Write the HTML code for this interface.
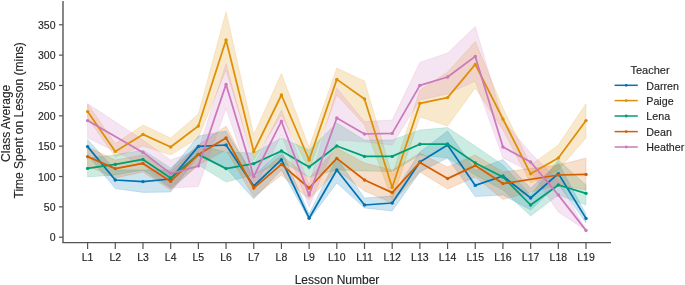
<!DOCTYPE html>
<html><head><meta charset="utf-8"><style>
html,body{margin:0;padding:0;background:#fff;}
svg{display:block;will-change:transform;}
text{font-family:"Liberation Sans",sans-serif;fill:#262626;stroke:#262626;stroke-width:0.15px;}
.tk{font-size:10.5px;}
.lb{font-size:12px;}
.lg{font-size:11px;}
.lgl{font-size:10.7px;}
</style></head><body>
<svg width="685" height="285" viewBox="0 0 685 285">
<path d="M87.60,139.40 L115.29,170.00 L142.98,170.00 L170.67,170.00 L198.36,136.00 L226.05,131.00 L253.74,176.00 L281.43,150.00 L309.12,214.00 L336.81,158.00 L364.50,198.00 L392.19,196.00 L419.88,152.00 L447.57,131.00 L475.26,170.00 L502.95,159.50 L530.64,188.00 L558.33,163.00 L586.02,214.00 L586.02,223.00 L558.33,184.00 L530.64,210.00 L502.95,195.00 L475.26,196.60 L447.57,158.00 L419.88,172.00 L392.19,211.00 L364.50,208.00 L336.81,183.00 L309.12,220.00 L281.43,170.00 L253.74,199.00 L226.05,168.00 L198.36,156.00 L170.67,192.00 L142.98,192.40 L115.29,188.60 L87.60,155.00 Z" fill="#0173b2" fill-opacity="0.2" stroke="#0173b2" stroke-opacity="0.2" stroke-width="0.8"/>
<path d="M87.60,104.00 L115.29,143.60 L142.98,125.00 L170.67,138.00 L198.36,114.00 L226.05,11.60 L253.74,134.60 L281.43,73.60 L309.12,147.50 L336.81,68.00 L364.50,81.00 L392.19,175.00 L419.88,90.00 L447.57,72.00 L475.26,41.60 L502.95,108.00 L530.64,165.00 L558.33,145.00 L586.02,103.60 L586.02,138.00 L558.33,170.00 L530.64,183.00 L502.95,130.00 L475.26,88.00 L447.57,126.00 L419.88,117.00 L392.19,200.00 L364.50,125.00 L336.81,95.00 L309.12,170.00 L281.43,115.00 L253.74,160.00 L226.05,70.00 L198.36,138.00 L170.67,155.00 L142.98,146.00 L115.29,157.00 L87.60,118.00 Z" fill="#de8f05" fill-opacity="0.2" stroke="#de8f05" stroke-opacity="0.2" stroke-width="0.8"/>
<path d="M87.60,158.00 L115.29,155.00 L142.98,150.00 L170.67,168.00 L198.36,145.00 L226.05,152.00 L253.74,153.00 L281.43,138.00 L309.12,150.00 L336.81,123.00 L364.50,140.00 L392.19,140.00 L419.88,130.00 L447.57,127.60 L475.26,146.00 L502.95,165.00 L530.64,195.00 L558.33,160.00 L586.02,185.00 L586.02,205.00 L558.33,195.00 L530.64,216.00 L502.95,190.00 L475.26,175.00 L447.57,158.00 L419.88,155.00 L392.19,171.50 L364.50,171.00 L336.81,170.00 L309.12,177.00 L281.43,162.00 L253.74,175.00 L226.05,182.00 L198.36,165.00 L170.67,188.00 L142.98,170.00 L115.29,175.00 L87.60,177.00 Z" fill="#029e73" fill-opacity="0.2" stroke="#029e73" stroke-opacity="0.2" stroke-width="0.8"/>
<path d="M87.60,147.00 L115.29,160.00 L142.98,155.00 L170.67,172.00 L198.36,145.00 L226.05,126.00 L253.74,178.00 L281.43,155.00 L309.12,178.00 L336.81,148.00 L364.50,163.00 L392.19,170.00 L419.88,153.00 L447.57,167.00 L475.26,155.00 L502.95,172.00 L558.33,165.00 L586.02,158.00 L586.02,190.00 L558.33,185.00 L502.95,199.40 L475.26,177.00 L447.57,189.00 L419.88,172.00 L392.19,203.00 L364.50,191.00 L336.81,170.00 L309.12,199.50 L281.43,175.00 L253.74,197.00 L226.05,150.00 L198.36,165.00 L170.67,190.00 L142.98,172.00 L115.29,178.00 L87.60,166.00 Z" fill="#d55e00" fill-opacity="0.2" stroke="#d55e00" stroke-opacity="0.2" stroke-width="0.8"/>
<path d="M87.60,103.60 L142.98,140.00 L170.67,160.00 L198.36,150.00 L226.05,63.60 L253.74,165.00 L281.43,110.00 L309.12,185.00 L336.81,88.00 L364.50,121.60 L392.19,120.00 L419.88,62.40 L447.57,53.00 L475.26,26.40 L502.95,120.00 L530.64,153.00 L558.33,180.00 L586.02,230.40 L586.02,230.40 L558.33,212.00 L530.64,172.00 L502.95,158.00 L475.26,81.00 L447.57,94.00 L419.88,100.00 L392.19,145.00 L364.50,142.00 L336.81,140.00 L309.12,207.00 L281.43,135.00 L253.74,190.00 L226.05,108.50 L198.36,186.60 L170.67,188.00 L142.98,165.00 L87.60,138.00 Z" fill="#cc78bc" fill-opacity="0.2" stroke="#cc78bc" stroke-opacity="0.2" stroke-width="0.8"/>
<path d="M87.60,146.60 L115.29,180.00 L142.98,181.60 L170.67,179.00 L198.36,146.40 L226.05,145.00 L253.74,186.00 L281.43,159.60 L309.12,218.20 L336.81,170.00 L364.50,205.00 L392.19,203.00 L419.88,162.00 L447.57,145.00 L475.26,185.40 L502.95,176.00 L530.64,198.00 L558.33,173.60 L586.02,218.40" fill="none" stroke="#0173b2" stroke-width="1.75" stroke-linejoin="round" stroke-linecap="round"/>
<circle cx="87.60" cy="146.60" r="1.7" fill="#0173b2"/>
<circle cx="115.29" cy="180.00" r="1.7" fill="#0173b2"/>
<circle cx="142.98" cy="181.60" r="1.7" fill="#0173b2"/>
<circle cx="170.67" cy="179.00" r="1.7" fill="#0173b2"/>
<circle cx="198.36" cy="146.40" r="1.7" fill="#0173b2"/>
<circle cx="226.05" cy="145.00" r="1.7" fill="#0173b2"/>
<circle cx="253.74" cy="186.00" r="1.7" fill="#0173b2"/>
<circle cx="281.43" cy="159.60" r="1.7" fill="#0173b2"/>
<circle cx="309.12" cy="218.20" r="1.7" fill="#0173b2"/>
<circle cx="336.81" cy="170.00" r="1.7" fill="#0173b2"/>
<circle cx="364.50" cy="205.00" r="1.7" fill="#0173b2"/>
<circle cx="392.19" cy="203.00" r="1.7" fill="#0173b2"/>
<circle cx="419.88" cy="162.00" r="1.7" fill="#0173b2"/>
<circle cx="447.57" cy="145.00" r="1.7" fill="#0173b2"/>
<circle cx="475.26" cy="185.40" r="1.7" fill="#0173b2"/>
<circle cx="502.95" cy="176.00" r="1.7" fill="#0173b2"/>
<circle cx="530.64" cy="198.00" r="1.7" fill="#0173b2"/>
<circle cx="558.33" cy="173.60" r="1.7" fill="#0173b2"/>
<circle cx="586.02" cy="218.40" r="1.7" fill="#0173b2"/>
<path d="M87.60,111.60 L115.29,151.40 L142.98,134.40 L170.67,147.00 L198.36,126.00 L226.05,40.00 L253.74,151.60 L281.43,95.00 L309.12,160.00 L336.81,79.40 L364.50,99.00 L392.19,187.40 L419.88,103.40 L447.57,97.60 L475.26,64.40 L502.95,119.00 L530.64,173.80 L558.33,158.00 L586.02,120.60" fill="none" stroke="#de8f05" stroke-width="1.75" stroke-linejoin="round" stroke-linecap="round"/>
<circle cx="87.60" cy="111.60" r="1.7" fill="#de8f05"/>
<circle cx="115.29" cy="151.40" r="1.7" fill="#de8f05"/>
<circle cx="142.98" cy="134.40" r="1.7" fill="#de8f05"/>
<circle cx="170.67" cy="147.00" r="1.7" fill="#de8f05"/>
<circle cx="198.36" cy="126.00" r="1.7" fill="#de8f05"/>
<circle cx="226.05" cy="40.00" r="1.7" fill="#de8f05"/>
<circle cx="253.74" cy="151.60" r="1.7" fill="#de8f05"/>
<circle cx="281.43" cy="95.00" r="1.7" fill="#de8f05"/>
<circle cx="309.12" cy="160.00" r="1.7" fill="#de8f05"/>
<circle cx="336.81" cy="79.40" r="1.7" fill="#de8f05"/>
<circle cx="364.50" cy="99.00" r="1.7" fill="#de8f05"/>
<circle cx="392.19" cy="187.40" r="1.7" fill="#de8f05"/>
<circle cx="419.88" cy="103.40" r="1.7" fill="#de8f05"/>
<circle cx="447.57" cy="97.60" r="1.7" fill="#de8f05"/>
<circle cx="475.26" cy="64.40" r="1.7" fill="#de8f05"/>
<circle cx="502.95" cy="119.00" r="1.7" fill="#de8f05"/>
<circle cx="530.64" cy="173.80" r="1.7" fill="#de8f05"/>
<circle cx="558.33" cy="158.00" r="1.7" fill="#de8f05"/>
<circle cx="586.02" cy="120.60" r="1.7" fill="#de8f05"/>
<path d="M87.60,168.40 L115.29,164.40 L142.98,159.40 L170.67,178.00 L198.36,154.40 L226.05,168.60 L253.74,163.60 L281.43,151.00 L309.12,167.00 L336.81,146.00 L364.50,156.40 L392.19,156.40 L419.88,144.20 L447.57,144.00 L475.26,163.00 L502.95,177.00 L530.64,205.00 L558.33,185.00 L586.02,193.40" fill="none" stroke="#029e73" stroke-width="1.75" stroke-linejoin="round" stroke-linecap="round"/>
<circle cx="87.60" cy="168.40" r="1.7" fill="#029e73"/>
<circle cx="115.29" cy="164.40" r="1.7" fill="#029e73"/>
<circle cx="142.98" cy="159.40" r="1.7" fill="#029e73"/>
<circle cx="170.67" cy="178.00" r="1.7" fill="#029e73"/>
<circle cx="198.36" cy="154.40" r="1.7" fill="#029e73"/>
<circle cx="226.05" cy="168.60" r="1.7" fill="#029e73"/>
<circle cx="253.74" cy="163.60" r="1.7" fill="#029e73"/>
<circle cx="281.43" cy="151.00" r="1.7" fill="#029e73"/>
<circle cx="309.12" cy="167.00" r="1.7" fill="#029e73"/>
<circle cx="336.81" cy="146.00" r="1.7" fill="#029e73"/>
<circle cx="364.50" cy="156.40" r="1.7" fill="#029e73"/>
<circle cx="392.19" cy="156.40" r="1.7" fill="#029e73"/>
<circle cx="419.88" cy="144.20" r="1.7" fill="#029e73"/>
<circle cx="447.57" cy="144.00" r="1.7" fill="#029e73"/>
<circle cx="475.26" cy="163.00" r="1.7" fill="#029e73"/>
<circle cx="502.95" cy="177.00" r="1.7" fill="#029e73"/>
<circle cx="530.64" cy="205.00" r="1.7" fill="#029e73"/>
<circle cx="558.33" cy="185.00" r="1.7" fill="#029e73"/>
<circle cx="586.02" cy="193.40" r="1.7" fill="#029e73"/>
<path d="M87.60,156.60 L115.29,168.60 L142.98,163.40 L170.67,181.40 L198.36,154.40 L226.05,138.00 L253.74,188.00 L281.43,164.40 L309.12,188.00 L336.81,158.40 L364.50,180.00 L392.19,192.60 L419.88,162.40 L447.57,178.60 L475.26,165.60 L502.95,183.60 L558.33,175.00 L586.02,174.40" fill="none" stroke="#d55e00" stroke-width="1.75" stroke-linejoin="round" stroke-linecap="round"/>
<circle cx="87.60" cy="156.60" r="1.7" fill="#d55e00"/>
<circle cx="115.29" cy="168.60" r="1.7" fill="#d55e00"/>
<circle cx="142.98" cy="163.40" r="1.7" fill="#d55e00"/>
<circle cx="170.67" cy="181.40" r="1.7" fill="#d55e00"/>
<circle cx="198.36" cy="154.40" r="1.7" fill="#d55e00"/>
<circle cx="226.05" cy="138.00" r="1.7" fill="#d55e00"/>
<circle cx="253.74" cy="188.00" r="1.7" fill="#d55e00"/>
<circle cx="281.43" cy="164.40" r="1.7" fill="#d55e00"/>
<circle cx="309.12" cy="188.00" r="1.7" fill="#d55e00"/>
<circle cx="336.81" cy="158.40" r="1.7" fill="#d55e00"/>
<circle cx="364.50" cy="180.00" r="1.7" fill="#d55e00"/>
<circle cx="392.19" cy="192.60" r="1.7" fill="#d55e00"/>
<circle cx="419.88" cy="162.40" r="1.7" fill="#d55e00"/>
<circle cx="447.57" cy="178.60" r="1.7" fill="#d55e00"/>
<circle cx="475.26" cy="165.60" r="1.7" fill="#d55e00"/>
<circle cx="502.95" cy="183.60" r="1.7" fill="#d55e00"/>
<circle cx="558.33" cy="175.00" r="1.7" fill="#d55e00"/>
<circle cx="586.02" cy="174.40" r="1.7" fill="#d55e00"/>
<path d="M87.60,120.60 L142.98,152.40 L170.67,173.60 L198.36,166.00 L226.05,84.40 L253.74,176.60 L281.43,121.20 L309.12,195.00 L336.81,118.00 L364.50,134.00 L392.19,133.40 L419.88,85.40 L447.57,77.00 L475.26,56.40 L502.95,147.00 L530.64,162.00 L558.33,195.00 L586.02,230.40" fill="none" stroke="#cc78bc" stroke-width="1.75" stroke-linejoin="round" stroke-linecap="round"/>
<circle cx="87.60" cy="120.60" r="1.7" fill="#cc78bc"/>
<circle cx="142.98" cy="152.40" r="1.7" fill="#cc78bc"/>
<circle cx="170.67" cy="173.60" r="1.7" fill="#cc78bc"/>
<circle cx="198.36" cy="166.00" r="1.7" fill="#cc78bc"/>
<circle cx="226.05" cy="84.40" r="1.7" fill="#cc78bc"/>
<circle cx="253.74" cy="176.60" r="1.7" fill="#cc78bc"/>
<circle cx="281.43" cy="121.20" r="1.7" fill="#cc78bc"/>
<circle cx="309.12" cy="195.00" r="1.7" fill="#cc78bc"/>
<circle cx="336.81" cy="118.00" r="1.7" fill="#cc78bc"/>
<circle cx="364.50" cy="134.00" r="1.7" fill="#cc78bc"/>
<circle cx="392.19" cy="133.40" r="1.7" fill="#cc78bc"/>
<circle cx="419.88" cy="85.40" r="1.7" fill="#cc78bc"/>
<circle cx="447.57" cy="77.00" r="1.7" fill="#cc78bc"/>
<circle cx="475.26" cy="56.40" r="1.7" fill="#cc78bc"/>
<circle cx="502.95" cy="147.00" r="1.7" fill="#cc78bc"/>
<circle cx="530.64" cy="162.00" r="1.7" fill="#cc78bc"/>
<circle cx="558.33" cy="195.00" r="1.7" fill="#cc78bc"/>
<circle cx="586.02" cy="230.40" r="1.7" fill="#cc78bc"/>
<line x1="63" y1="1" x2="63" y2="242.6" stroke="#555" stroke-width="1.4"/>
<line x1="62.3" y1="242.6" x2="611" y2="242.6" stroke="#555" stroke-width="1.4"/>
<line x1="59" y1="237.20" x2="63" y2="237.20" stroke="#555" stroke-width="1.2"/>
<text x="55.5" y="241.40" text-anchor="end" class="tk">0</text>
<line x1="59" y1="206.85" x2="63" y2="206.85" stroke="#555" stroke-width="1.2"/>
<text x="55.5" y="211.05" text-anchor="end" class="tk">50</text>
<line x1="59" y1="176.51" x2="63" y2="176.51" stroke="#555" stroke-width="1.2"/>
<text x="55.5" y="180.71" text-anchor="end" class="tk">100</text>
<line x1="59" y1="146.16" x2="63" y2="146.16" stroke="#555" stroke-width="1.2"/>
<text x="55.5" y="150.36" text-anchor="end" class="tk">150</text>
<line x1="59" y1="115.82" x2="63" y2="115.82" stroke="#555" stroke-width="1.2"/>
<text x="55.5" y="120.02" text-anchor="end" class="tk">200</text>
<line x1="59" y1="85.47" x2="63" y2="85.47" stroke="#555" stroke-width="1.2"/>
<text x="55.5" y="89.67" text-anchor="end" class="tk">250</text>
<line x1="59" y1="55.13" x2="63" y2="55.13" stroke="#555" stroke-width="1.2"/>
<text x="55.5" y="59.33" text-anchor="end" class="tk">300</text>
<line x1="59" y1="24.78" x2="63" y2="24.78" stroke="#555" stroke-width="1.2"/>
<text x="55.5" y="28.98" text-anchor="end" class="tk">350</text>
<line x1="87.60" y1="242.6" x2="87.60" y2="249" stroke="#555" stroke-width="1.2"/>
<text x="87.60" y="260.8" text-anchor="middle" class="tk">L1</text>
<line x1="115.29" y1="242.6" x2="115.29" y2="249" stroke="#555" stroke-width="1.2"/>
<text x="115.29" y="260.8" text-anchor="middle" class="tk">L2</text>
<line x1="142.98" y1="242.6" x2="142.98" y2="249" stroke="#555" stroke-width="1.2"/>
<text x="142.98" y="260.8" text-anchor="middle" class="tk">L3</text>
<line x1="170.67" y1="242.6" x2="170.67" y2="249" stroke="#555" stroke-width="1.2"/>
<text x="170.67" y="260.8" text-anchor="middle" class="tk">L4</text>
<line x1="198.36" y1="242.6" x2="198.36" y2="249" stroke="#555" stroke-width="1.2"/>
<text x="198.36" y="260.8" text-anchor="middle" class="tk">L5</text>
<line x1="226.05" y1="242.6" x2="226.05" y2="249" stroke="#555" stroke-width="1.2"/>
<text x="226.05" y="260.8" text-anchor="middle" class="tk">L6</text>
<line x1="253.74" y1="242.6" x2="253.74" y2="249" stroke="#555" stroke-width="1.2"/>
<text x="253.74" y="260.8" text-anchor="middle" class="tk">L7</text>
<line x1="281.43" y1="242.6" x2="281.43" y2="249" stroke="#555" stroke-width="1.2"/>
<text x="281.43" y="260.8" text-anchor="middle" class="tk">L8</text>
<line x1="309.12" y1="242.6" x2="309.12" y2="249" stroke="#555" stroke-width="1.2"/>
<text x="309.12" y="260.8" text-anchor="middle" class="tk">L9</text>
<line x1="336.81" y1="242.6" x2="336.81" y2="249" stroke="#555" stroke-width="1.2"/>
<text x="336.81" y="260.8" text-anchor="middle" class="tk">L10</text>
<line x1="364.50" y1="242.6" x2="364.50" y2="249" stroke="#555" stroke-width="1.2"/>
<text x="364.50" y="260.8" text-anchor="middle" class="tk">L11</text>
<line x1="392.19" y1="242.6" x2="392.19" y2="249" stroke="#555" stroke-width="1.2"/>
<text x="392.19" y="260.8" text-anchor="middle" class="tk">L12</text>
<line x1="419.88" y1="242.6" x2="419.88" y2="249" stroke="#555" stroke-width="1.2"/>
<text x="419.88" y="260.8" text-anchor="middle" class="tk">L13</text>
<line x1="447.57" y1="242.6" x2="447.57" y2="249" stroke="#555" stroke-width="1.2"/>
<text x="447.57" y="260.8" text-anchor="middle" class="tk">L14</text>
<line x1="475.26" y1="242.6" x2="475.26" y2="249" stroke="#555" stroke-width="1.2"/>
<text x="475.26" y="260.8" text-anchor="middle" class="tk">L15</text>
<line x1="502.95" y1="242.6" x2="502.95" y2="249" stroke="#555" stroke-width="1.2"/>
<text x="502.95" y="260.8" text-anchor="middle" class="tk">L16</text>
<line x1="530.64" y1="242.6" x2="530.64" y2="249" stroke="#555" stroke-width="1.2"/>
<text x="530.64" y="260.8" text-anchor="middle" class="tk">L17</text>
<line x1="558.33" y1="242.6" x2="558.33" y2="249" stroke="#555" stroke-width="1.2"/>
<text x="558.33" y="260.8" text-anchor="middle" class="tk">L18</text>
<line x1="586.02" y1="242.6" x2="586.02" y2="249" stroke="#555" stroke-width="1.2"/>
<text x="586.02" y="260.8" text-anchor="middle" class="tk">L19</text>
<text x="337" y="283.8" text-anchor="middle" class="lb">Lesson Number</text>
<text transform="translate(9.9,123.3) rotate(-90)" text-anchor="middle" class="lb">Class Average</text>
<text transform="translate(22.5,120.3) rotate(-90)" text-anchor="middle" class="lb">Time Spent on Lesson (mins)</text>
<text x="650" y="73.6" text-anchor="middle" class="lg">Teacher</text>
<line x1="614.6" y1="85.3" x2="637.8" y2="85.3" stroke="#0173b2" stroke-width="1.5"/>
<circle cx="626.2" cy="85.3" r="1.4" fill="#0173b2"/>
<text x="646.3" y="89.6" class="lgl">Darren</text>
<line x1="614.6" y1="100.6" x2="637.8" y2="100.6" stroke="#de8f05" stroke-width="1.5"/>
<circle cx="626.2" cy="100.6" r="1.4" fill="#de8f05"/>
<text x="646.3" y="104.9" class="lgl">Paige</text>
<line x1="614.6" y1="116.0" x2="637.8" y2="116.0" stroke="#029e73" stroke-width="1.5"/>
<circle cx="626.2" cy="116.0" r="1.4" fill="#029e73"/>
<text x="646.3" y="120.3" class="lgl">Lena</text>
<line x1="614.6" y1="131.6" x2="637.8" y2="131.6" stroke="#d55e00" stroke-width="1.5"/>
<circle cx="626.2" cy="131.6" r="1.4" fill="#d55e00"/>
<text x="646.3" y="135.9" class="lgl">Dean</text>
<line x1="614.6" y1="147.0" x2="637.8" y2="147.0" stroke="#cc78bc" stroke-width="1.5"/>
<circle cx="626.2" cy="147.0" r="1.4" fill="#cc78bc"/>
<text x="646.3" y="151.3" class="lgl">Heather</text>
</svg>
</body></html>
